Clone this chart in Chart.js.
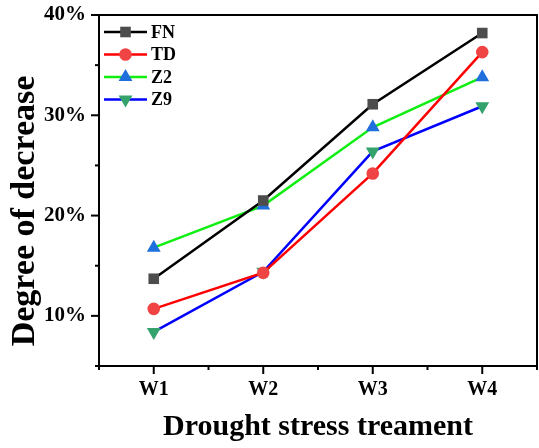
<!DOCTYPE html>
<html>
<head>
<meta charset="utf-8">
<script src="https://cdn.jsdelivr.net/npm/chart.js@4.4.1/dist/chart.umd.min.js"></script>
<style>
  html, body { margin: 0; padding: 0; background: #fff; overflow: hidden; }
  #wrap { width: 539px; height: 448px; position: relative; }
  canvas { display: block; }
</style>
</head>
<body>
<div id="wrap"><canvas id="grafico"></canvas></div>
<script>
const categorias = ['W1', 'W2', 'W3', 'W4'];
const nomesSeries = ['FN', 'TD', 'Z2', 'Z9'];
const valoresFN = [13.7, 21.5, 31.1, 38.2];
const valoresTD = [10.7, 14.3, 24.2, 36.3];
const valoresZ2 = [16.8, 21.0, 28.8, 33.8];
const valoresZ9 = [8.4, 14.4, 26.4, 30.9];
const ticksY = [10, 20, 30, 40];
const tituloX = 'Drought stress treament';
const tituloY = 'Degree of decrease';

const fonte = '"Liberation Serif", "Times New Roman", serif';

function pontos(valores) {
    return valores.map((v, i) => ({ x: i + 1, y: v }));
}

const estilos = [
    { linha: '#000000', marca: '#4d4d4d', forma: 'rect', raio: 7.5, rot: 0 },
    { linha: '#ff0000', marca: '#f04343', forma: 'circle', raio: 6.3, rot: 0 },
    { linha: '#11ee11', marca: '#1f6fdc', forma: 'triangle', raio: 8, rot: 0 },
    { linha: '#0000ff', marca: '#33a36b', forma: 'triangle', raio: 8, rot: 180 }
];
const todosValores = [valoresFN, valoresTD, valoresZ2, valoresZ9];

const datasets = nomesSeries.map((nome, i) => ({
    label: nome,
    data: pontos(todosValores[i]),
    borderColor: estilos[i].linha,
    borderWidth: 2.5,
    backgroundColor: estilos[i].marca,
    pointBackgroundColor: estilos[i].marca,
    pointBorderColor: estilos[i].marca,
    pointBorderWidth: 0,
    pointStyle: estilos[i].forma,
    pointRotation: estilos[i].rot,
    pointRadius: estilos[i].raio,
    pointHoverRadius: estilos[i].raio,
    tension: 0,
    clip: false
}));

// zera o padding extra que o Chart.js reserva para os rotulos
function semPadding(s) {
    s.paddingTop = 0;
    s.paddingBottom = 0;
    s.paddingLeft = 0;
    s.paddingRight = 0;
}

// desenha moldura, ticks, titulos e legenda
const extras = {
    id: 'extras',
    afterDraw(chart) {
        const ctx = chart.ctx;
        const area = chart.chartArea;
        const sx = chart.scales.x;
        const sy = chart.scales.y;
        ctx.save();
        ctx.strokeStyle = '#000';
        ctx.lineWidth = 2;

        // ticks do eixo x
        sx.ticks.forEach(t => {
            const px = sx.getPixelForValue(t.value);
            const tam = Number.isInteger(t.value) ? 8 : 4;
            ctx.beginPath();
            ctx.moveTo(px, area.bottom);
            ctx.lineTo(px, area.bottom + tam);
            ctx.stroke();
        });
        // ticks do eixo y
        sy.ticks.forEach(t => {
            const py = sy.getPixelForValue(t.value);
            const tam = ticksY.includes(t.value) ? 8 : 4;
            ctx.beginPath();
            ctx.moveTo(area.left, py);
            ctx.lineTo(area.left - tam, py);
            ctx.stroke();
        });
        // moldura
        ctx.strokeRect(area.left, area.top, area.right - area.left, area.bottom - area.top);

        // titulos
        ctx.fillStyle = '#000';
        ctx.textAlign = 'center';
        ctx.textBaseline = 'alphabetic';
        ctx.font = 'bold 30px ' + fonte;
        ctx.fillText(tituloX, (area.left + area.right) / 2, 435);
        ctx.save();
        ctx.translate(34, 211);
        ctx.rotate(-Math.PI / 2);
        ctx.font = 'bold 34px ' + fonte;
        ctx.fillText(tituloY, 0, 0);
        ctx.restore();

        // legenda
        ctx.font = 'bold 18px ' + fonte;
        ctx.textAlign = 'left';
        ctx.textBaseline = 'middle';
        chart.data.datasets.forEach((ds, i) => {
            const y = 32 + i * 22.5;
            ctx.strokeStyle = ds.borderColor;
            ctx.lineWidth = 2.5;
            ctx.beginPath();
            ctx.moveTo(104, y);
            ctx.lineTo(147, y);
            ctx.stroke();
            ctx.fillStyle = ds.pointBackgroundColor;
            Chart.helpers.drawPoint(ctx, {
                pointStyle: ds.pointStyle,
                rotation: ds.pointRotation,
                radius: ds.pointRadius,
                borderWidth: 0
            }, 125.5, y);
            ctx.fillStyle = '#000';
            ctx.fillText(ds.label, 151, y + 1);
        });
        ctx.restore();
    }
};

const ctx = document.getElementById('grafico').getContext('2d');
const grafico = new Chart(ctx, {
    type: 'line',
    data: { datasets: datasets },
    options: {
        responsive: true,
        maintainAspectRatio: false,
        devicePixelRatio: 1,
        animation: false,
        layout: { autoPadding: false, padding: { top: 15, right: 2, left: 0, bottom: 0 } },
        plugins: {
            legend: { display: false },
            tooltip: { enabled: false }
        },
        scales: {
            x: {
                type: 'linear',
                min: 0.5,
                max: 4.5,
                afterFit(s) { s.height = 82; semPadding(s); },
                grid: { display: false, drawTicks: false },
                border: { display: false },
                ticks: {
                    stepSize: 0.5,
                    autoSkip: false,
                    maxRotation: 0,
                    padding: 12,
                    color: '#000',
                    font: { family: fonte, size: 20, weight: 'bold' },
                    callback: v => Number.isInteger(v) ? categorias[v - 1] : ''
                }
            },
            y: {
                min: 5,
                max: 40,
                afterFit(s) { s.width = 99; semPadding(s); },
                grid: { display: false, drawTicks: false },
                border: { display: false },
                ticks: {
                    stepSize: 5,
                    autoSkip: false,
                    padding: 13,
                    color: '#000',
                    font: { family: fonte, size: 21, weight: 'bold' },
                    callback: v => ticksY.includes(v) ? v + '%' : ''
                }
            }
        }
    },
    plugins: [extras]
});
</script>
</body>
</html>
